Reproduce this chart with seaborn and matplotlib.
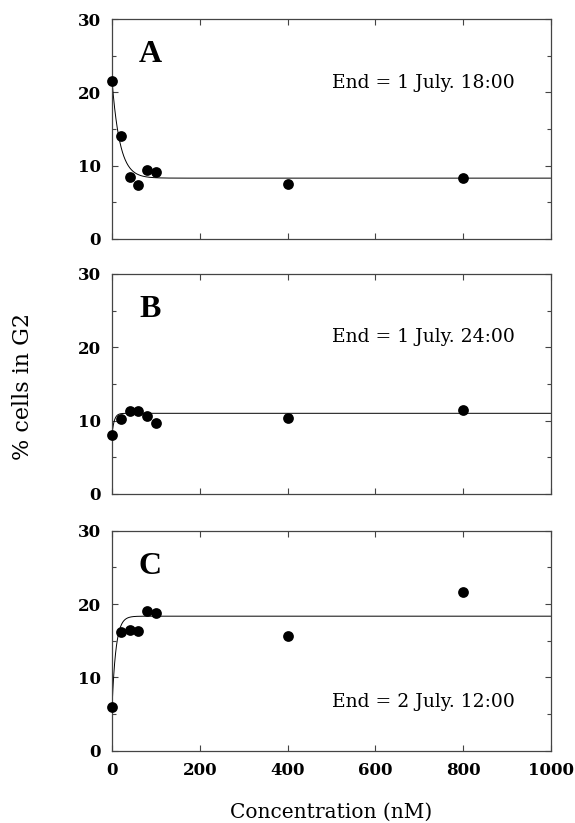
import matplotlib
matplotlib.use("Agg")
import matplotlib.pyplot as plt
import numpy as np
import pandas as pd
import seaborn as sns

# concentration (nM)
conc = [0, 20, 40, 60, 80, 100, 400, 800]

# % cells in G2
g2_a = [21.6, 14.1, 8.5, 7.3, 9.4, 9.1, 7.5, 8.3]
g2_b = [8.1, 10.2, 11.3, 11.3, 10.7, 9.7, 10.3, 11.4]
g2_c = [5.9, 16.2, 16.5, 16.3, 19.0, 18.8, 15.7, 21.6]

panel_letters = ["A", "B", "C"]
end_labels = ["End = 1 July. 18:00", "End = 1 July. 24:00", "End = 2 July. 12:00"]
label_y = [21.3, 21.4, 6.7]

# fitted curves: start value, plateau, rate constant (nM)
fit_start = [21.6, 8.1, 5.9]
fit_plateau = [8.3, 11.0, 18.35]
fit_k = [18, 5, 9]

sns.set_theme(style="ticks")
plt.rcParams['font.family'] = ['DejaVu Serif', 'Liberation Serif']
plt.rcParams['text.color'] = 'black'
plt.rcParams['xtick.labelcolor'] = 'black'
plt.rcParams['ytick.labelcolor'] = 'black'

fig = plt.figure(figsize=(5.75, 8.23), dpi=100)
bottoms = [0.7096, 0.3998, 0.0878]
axes = [fig.add_axes([0.1948, b, 0.763, 0.2673]) for b in bottoms]

xfit = np.linspace(0, 1000, 2001)
for i, (ax, g2) in enumerate(zip(axes, [g2_a, g2_b, g2_c])):
    yfit = fit_plateau[i] + (fit_start[i] - fit_plateau[i]) * np.exp(-xfit / fit_k[i])
    sns.lineplot(x=xfit, y=yfit, ax=ax, color="black", lw=0.7)
    df = pd.DataFrame({"conc": conc, "g2": g2})
    sns.scatterplot(data=df, x="conc", y="g2", ax=ax, color="black", s=60,
                    edgecolor="black", linewidth=0, zorder=3, clip_on=False)
    ax.set_xlim(0, 1000)
    ax.set_ylim(0, 30)
    ax.set_xticks(range(0, 1001, 200))
    ax.set_yticks([0, 10, 20, 30])
    ax.set_yticks([5, 15, 25], minor=True)
    ax.tick_params(which="both", direction="in", top=True, right=True,
                   width=0.8, color="#444444")
    ax.tick_params(which="major", length=4, labelsize=12, pad=8)
    ax.tick_params(which="minor", length=3)
    for lab in ax.get_yticklabels() + ax.get_xticklabels():
        lab.set_fontweight("bold")
    for sp in ax.spines.values():
        sp.set_linewidth(0.9)
        sp.set_color("#444444")
    ax.set_xlabel("")
    ax.set_ylabel("")
    if i < 2:
        ax.set_xticklabels([])
    ax.text(87, 25.1, panel_letters[i], fontsize=23, fontweight="bold",
            family="Liberation Serif", ha="center", va="center")
    ax.text(502, label_y[i], end_labels[i], fontsize=13.5, ha="left", va="center")

fig.text(0.576, 0.013, "Concentration (nM)", fontsize=14.5, ha="center", va="center")
fig.text(0.04, 0.53, "% cells in G2", fontsize=16, rotation=90, ha="center", va="center")

fig.savefig("out.png", dpi=100)
